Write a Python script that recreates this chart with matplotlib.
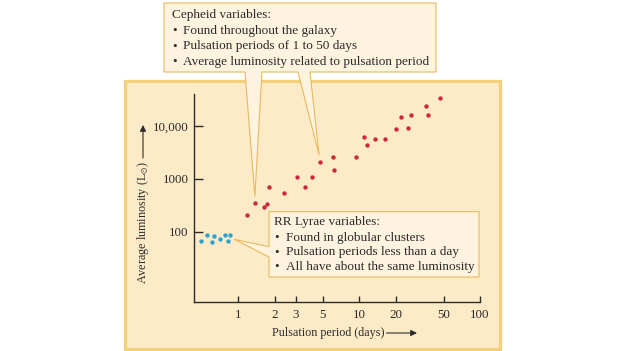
# ====================================
# CEPHEID / RR LYRAE PERIOD-LUMINOSITY
# ====================================

import matplotlib
matplotlib.use("Agg")

import matplotlib.pyplot as plt
from matplotlib.patches import Rectangle, Polygon

# ====================================
# DATA
# ====================================

cepheid_period = [1.17, 1.37, 1.63, 1.73, 1.78, 2.38, 3.04, 3.55, 4.10, 4.75,
                  6.09, 6.17, 9.5, 10.9, 11.6, 13.5, 16.4, 20.1, 22.3, 25.2,
                  27.0, 35.7, 37.3, 46.6]
cepheid_lum = [204, 349, 293, 339, 700, 547, 1099, 690, 1099, 2113,
               2627, 1469, 2627, 6103, 4433, 5758, 5758, 8775, 14800, 9300,
               16390, 23550, 16150, 33450]

rr_period = [0.494, 0.550, 0.601, 0.625, 0.700, 0.775, 0.826, 0.858]
rr_lum = [67.6, 85.3, 64.7, 81.6, 72.6, 86.5, 67.6, 85.3]

x_ticks = [1, 2, 3, 5, 10, 20, 50, 100]
x_tick_labels = ["1", "2", "3", "5", "10", "20", "50", "100"]
y_ticks = [100, 1000, 10000]
y_tick_labels = ["100", "1000", "10,000"]

cepheid_lines = [
    "Cepheid variables:",
    "Found throughout the galaxy",
    "Pulsation periods of 1 to 50 days",
    "Average luminosity related to pulsation period",
]
rr_lines = [
    "RR Lyrae variables:",
    "Found in globular clusters",
    "Pulsation periods less than a day",
    "All have about the same luminosity",
]

# ====================================
# STYLE
# ====================================

plt.rcParams["font.family"] = ["Liberation Serif", "DejaVu Serif"]
plt.rcParams["mathtext.fontset"] = "stix"

PANEL = "#fdebc8"
PANEL_EDGE = "#f4d07a"
BOX = "#fef3df"
BOX_EDGE = "#e9b95c"
RED = "#c9283e"
BLUE = "#2ba3cf"
INK = "#2b2b2b"

W, H = 620, 351


def fx(x):
    return x / W


def fy(y):
    return 1 - y / H


fig = plt.figure(figsize=(W / 100, H / 100), dpi=100)

# background panel
fig.patches.append(
    Rectangle(
        (fx(125), fy(349)),
        (500 - 125) / W,
        (349 - 80.7) / H,
        transform=fig.transFigure,
        facecolor=PANEL,
        edgecolor=PANEL_EDGE,
        linewidth=2.3,
        zorder=-1
    )
)

# ====================================
# AXES
# ====================================

ax = fig.add_axes([fx(194.3), fy(301.7), (480 - 194.3) / W, (301.7 - 94) / H])
ax.patch.set_alpha(0)

ax.set_xscale("log")
ax.set_yscale("log")
ax.set_xlim(0.432, 100)
ax.set_ylim(4.72, 40400)

ax.scatter(cepheid_period, cepheid_lum, s=10, color=RED, linewidths=0, zorder=3)
ax.scatter(rr_period, rr_lum, s=10, color=BLUE, linewidths=0, zorder=3)

for side in ["top", "right"]:
    ax.spines[side].set_visible(False)
for side in ["left", "bottom"]:
    ax.spines[side].set_color(INK)
    ax.spines[side].set_linewidth(1.0)

ax.minorticks_off()
ax.set_xticks(x_ticks)
ax.set_xticklabels(x_tick_labels)
ax.set_yticks(y_ticks)
ax.set_yticklabels(y_tick_labels)

ax.tick_params(axis="x", direction="in", length=4.5, width=1.0,
               color=INK, labelsize=9.4, labelcolor=INK, pad=5)
ax.tick_params(axis="y", direction="in", length=6.5, width=1.0,
               color=INK, labelsize=9.4, labelcolor=INK, pad=4)

# ====================================
# AXIS LABELS WITH ARROWS
# ====================================

fig.text(fx(271.5), fy(333), "Pulsation period (days)", ha="left",
         va="center", fontsize=8.7, color=INK)
ax.annotate("", xy=(fx(417), fy(333)), xytext=(fx(386.5), fy(333)),
            xycoords="figure fraction", textcoords="figure fraction",
            arrowprops=dict(arrowstyle="-|>", color=INK, lw=0.8,
                            mutation_scale=9, shrinkA=0, shrinkB=0))

fig.text(fx(143), fy(283.5), r"Average luminosity (L$_{\odot}$)", ha="center",
         va="bottom", rotation=90, fontsize=8.7, color=INK)
ax.annotate("", xy=(fx(143), fy(125)), xytext=(fx(143), fy(158)),
            xycoords="figure fraction", textcoords="figure fraction",
            arrowprops=dict(arrowstyle="-|>", color=INK, lw=0.8,
                            mutation_scale=9, shrinkA=0, shrinkB=0))

# ====================================
# CALLOUTS
# ====================================


def data_px(x, y):
    # data point -> figure pixels (measured from top)
    px, py = ax.transData.transform((x, y))
    return px, H - py


# Cepheid callout tips point just above two red stars
t1x, t1y = data_px(cepheid_period[1], cepheid_lum[1])
t2x, t2y = data_px(cepheid_period[9], cepheid_lum[9])
t1y -= 6.5
t2y -= 6.5
t2x -= 1

top_box = [
    (164, 3), (436, 3), (436, 72),
    (310, 72), (t2x, t2y), (298, 72),
    (262, 72), (t1x, t1y), (245, 72),
    (164, 72),
]
fig.patches.append(
    Polygon([(fx(x), fy(y)) for x, y in top_box], closed=True,
            transform=fig.transFigure, facecolor=BOX, edgecolor=BOX_EDGE,
            linewidth=0.8, zorder=5)
)

# RR Lyrae callout tip just right of the blue group
r_x, r_y = data_px(rr_period[-1], rr_lum[-1])
r_x += 4
r_y += 4

rr_box = [
    (269, 211.7), (479, 211.7), (479, 277),
    (269, 277), (269, 257), (r_x, r_y), (269, 246.7),
]
fig.patches.append(
    Polygon([(fx(x), fy(y)) for x, y in rr_box], closed=True,
            transform=fig.transFigure, facecolor=BOX, edgecolor=BOX_EDGE,
            linewidth=0.8, zorder=5)
)

# ====================================
# CALLOUT TEXT
# ====================================

top_rows = [15, 31, 46.5, 62]
for i, line in enumerate(cepheid_lines):
    if i == 0:
        fig.text(fx(171.5), fy(top_rows[i]), line, ha="left", va="center",
                 fontsize=9.5, color=INK, zorder=6)
    else:
        fig.text(fx(172), fy(top_rows[i]), "\u2022", ha="left", va="center",
                 fontsize=9.5, color=INK, zorder=6)
        fig.text(fx(183), fy(top_rows[i]), line, ha="left", va="center",
                 fontsize=9.5, color=INK, zorder=6)

rr_rows = [222, 237.7, 252.5, 267]
for i, line in enumerate(rr_lines):
    if i == 0:
        fig.text(fx(274), fy(rr_rows[i]), line, ha="left", va="center",
                 fontsize=9.5, color=INK, zorder=6)
    else:
        fig.text(fx(274), fy(rr_rows[i]), "\u2022", ha="left", va="center",
                 fontsize=9.5, color=INK, zorder=6)
        fig.text(fx(286.5), fy(rr_rows[i]), line, ha="left", va="center",
                 fontsize=9.5, color=INK, zorder=6)

fig.savefig("out.png", dpi=100, facecolor="white")
